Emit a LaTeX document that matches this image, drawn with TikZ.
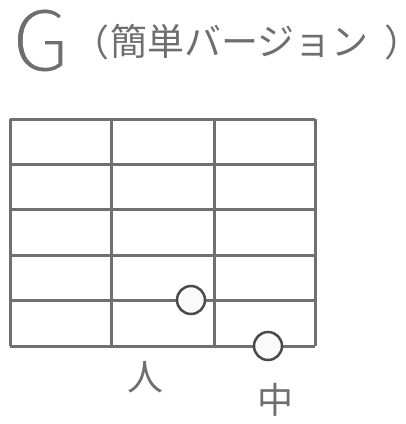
\documentclass[tikz,border=0pt]{standalone}
\usepackage{fontspec}
\setmainfont{Noto Sans CJK JP}
\newfontfamily\cjk{Noto Sans CJK JP}
\definecolor{gridgray}{HTML}{707070}
\definecolor{txtgray}{HTML}{6E6E6E}
\definecolor{ringgray}{HTML}{4A4A4A}
\definecolor{ringfill}{HTML}{FAFAFA}
\newcommand{\thinglyph}[2]{\special{pdf:literal 2 Tr 1 1 1 RG #1 w}#2\special{pdf:literal 0 Tr}}
\begin{document}
\begin{tikzpicture}[x=1pt,y=-1pt,
  fretline/.style={draw=gridgray,line width=3pt},
  fingerdot/.style={circle,draw=ringgray,fill=ringfill,line width=2.5pt,minimum size=28pt,inner sep=0pt},
  ttl/.style={text=txtgray,inner sep=0pt,font=\cjk\fontsize{37}{37}\selectfont,anchor=base},
  lbl/.style={text=txtgray,inner sep=0pt,font=\cjk\fontsize{36}{36}\selectfont}]
\useasboundingbox (0,0) rectangle (406,424);
% title
\node[text=txtgray,inner sep=0pt,font=\cjk\fontsize{86}{86}\selectfont,text height=62pt,text depth=0pt,anchor=base west] (g) at (11,72) {\thinglyph{3.2}{G}};
\node[ttl,anchor=base east] (lp) at (110,56) {（};
\node[ttl,anchor=base west] (t) at (110,55) {簡単バージョン};
\node[ttl,anchor=base west] (rp) at (384,56) {）};
% grid
\foreach \y in {119,164,209,255,300,346} \draw[fretline] (10,\y) -- (315,\y);
\foreach \x in {10,111,214,315} \draw[fretline] (\x,119) -- (\x,346);
% dots
\node[fingerdot] (d1) at (191,300) {};
\node[fingerdot] (d2) at (268,346) {};
% labels
\node[lbl] (p1) at (146,377) {人};
\node[lbl] (p2) at (275,400) {中};
\end{tikzpicture}
\end{document}
